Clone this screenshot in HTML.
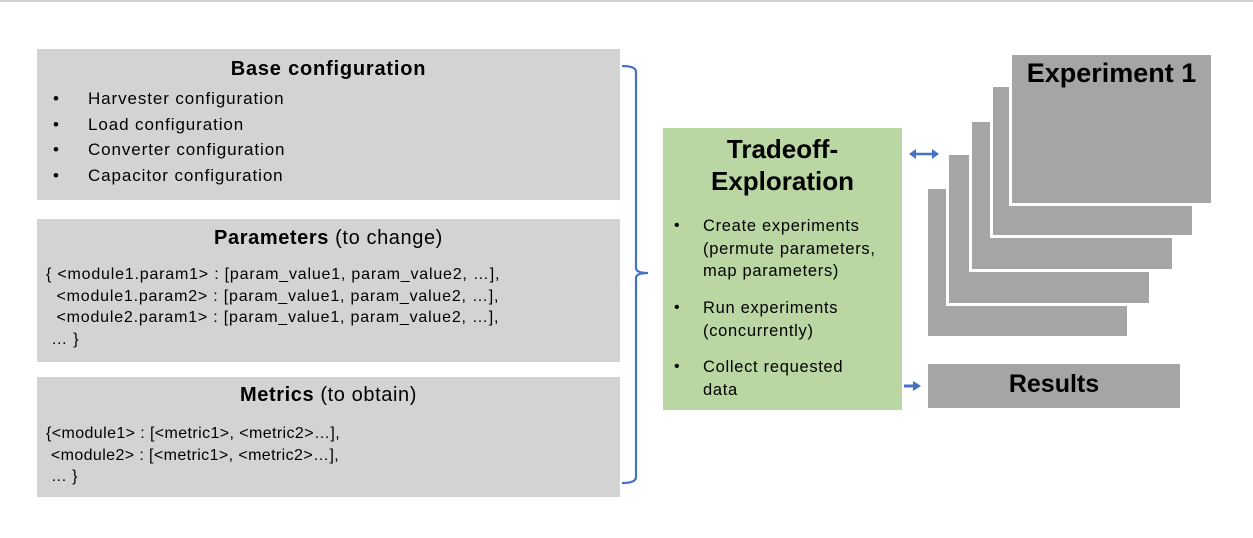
<!DOCTYPE html>
<html><head><meta charset="utf-8"><style>
body{margin:0;width:1253px;height:538px;background:#fff;position:relative;overflow:hidden;font-family:"Liberation Sans",sans-serif;color:#000}
.a{position:absolute}
.box{position:absolute;background:#d3d3d3}
.g{position:absolute;background:#a5a5a5;border:3px solid #fff;box-sizing:border-box}
.t{position:absolute;white-space:nowrap}
</style></head><body>
<div class="a" style="left:0;top:0;width:1253px;height:2px;background:#d0d0d0"></div>

<div class="box" style="left:37px;top:49px;width:583px;height:151px"></div>
<div class="t" style="left:37px;width:583px;top:58px;text-align:center;font-weight:bold;font-size:20px;letter-spacing:0.8px">Base configuration</div>
<div class="t" style="left:53px;top:86px;font-size:17px;line-height:25.7px">•<br>•<br>•<br>•</div>
<div class="t" style="left:88px;top:86px;font-size:17px;line-height:25.7px;letter-spacing:0.9px">Harvester configuration<br>Load configuration<br>Converter configuration<br>Capacitor configuration</div>

<div class="box" style="left:37px;top:219px;width:583px;height:143px"></div>
<div class="t" style="left:37px;width:583px;top:227px;text-align:center;font-size:20px;letter-spacing:0.6px"><b>Parameters</b> (to change)</div>
<div class="t" style="left:46px;top:264px;font-size:16px;line-height:21.5px;letter-spacing:0.8px">{ &lt;module1.param1&gt; : [param_value1, param_value2, …],<br>&nbsp;&nbsp;&lt;module1.param2&gt; : [param_value1, param_value2, …],<br>&nbsp;&nbsp;&lt;module2.param1&gt; : [param_value1, param_value2, …],<br>&nbsp;… }</div>

<div class="box" style="left:37px;top:377px;width:583px;height:120px"></div>
<div class="t" style="left:37px;width:583px;top:384px;text-align:center;font-size:20px;letter-spacing:0.6px"><b>Metrics</b> (to obtain)</div>
<div class="t" style="left:46px;top:423px;font-size:16px;line-height:21.5px;letter-spacing:0.4px">{&lt;module1&gt; : [&lt;metric1&gt;, &lt;metric2&gt;…],<br>&nbsp;&lt;module2&gt; : [&lt;metric1&gt;, &lt;metric2&gt;…],<br>&nbsp;… }</div>

<svg class="a" style="left:0;top:0" width="1253" height="538">
<path d="M622 66 Q636 66 636 72 L636 268 Q636 273 648 273 Q636 273 636 278 L636 477 Q636 483 622 483" fill="none" stroke="#4472c4" stroke-width="2.2"/>
<line x1="914" y1="154" x2="934" y2="154" stroke="#4472c4" stroke-width="2.5"/>
<polygon points="909,154 916,149 916,159" fill="#4472c4"/>
<polygon points="939,154 932,149 932,159" fill="#4472c4"/>
<line x1="904" y1="386" x2="914" y2="386" stroke="#4472c4" stroke-width="3"/>
<polygon points="921,386 913,381 913,391" fill="#4472c4"/>
</svg>

<div class="a" style="left:663px;top:128px;width:239px;height:282px;background:#b9d6a3"></div>
<div class="t" style="left:663px;width:239px;top:133px;text-align:center;font-weight:bold;font-size:26px;line-height:32px">Tradeoff-<br>Exploration</div>
<div class="t" style="left:674px;top:215px;font-size:16px;line-height:22.5px">•</div>
<div class="t" style="left:703px;top:215px;font-size:16.5px;line-height:22.5px;letter-spacing:0.7px">Create experiments<br>(permute parameters,<br>map parameters)</div>
<div class="t" style="left:674px;top:297px;font-size:16px;line-height:22.5px">•</div>
<div class="t" style="left:703px;top:297px;font-size:16.5px;line-height:22.5px;letter-spacing:0.7px">Run experiments<br>(concurrently)</div>
<div class="t" style="left:674px;top:356px;font-size:16px;line-height:22.5px">•</div>
<div class="t" style="left:703px;top:356px;font-size:16.5px;line-height:22.5px;letter-spacing:0.7px">Collect requested<br>data</div>

<div class="g" style="left:925px;top:186px;width:205px;height:153px"></div>
<div class="g" style="left:946px;top:152px;width:206px;height:154px"></div>
<div class="g" style="left:969px;top:119px;width:206px;height:153px"></div>
<div class="g" style="left:990px;top:84px;width:205px;height:154px"></div>
<div class="g" style="left:1009px;top:52px;width:205px;height:154px"></div>
<div class="t" style="left:1012px;width:199px;top:58px;text-align:center;font-weight:bold;font-size:27px">Experiment 1</div>

<div class="a" style="left:928px;top:364px;width:252px;height:44px;background:#a5a5a5"></div>
<div class="t" style="left:928px;width:252px;top:370px;text-align:center;font-weight:bold;font-size:25px">Results</div>
</body></html>
